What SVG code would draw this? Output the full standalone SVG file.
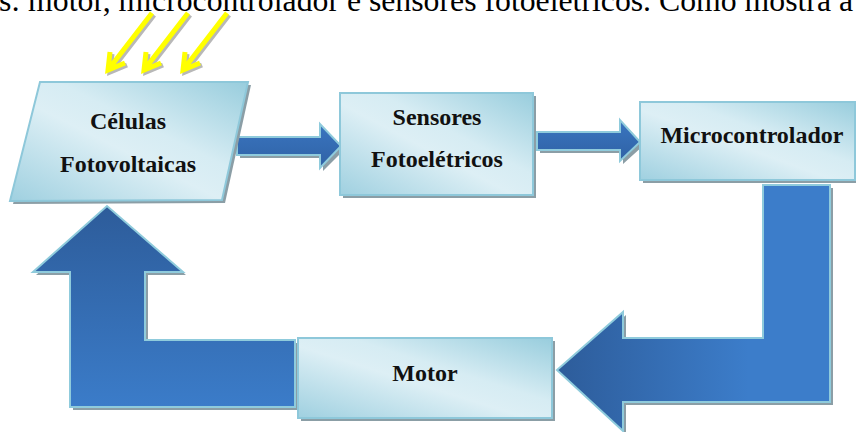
<svg xmlns="http://www.w3.org/2000/svg" width="856" height="432" viewBox="0 0 856 432">
<defs>
<linearGradient id="box" x1="0" y1="1" x2="1" y2="0">
<stop offset="0" stop-color="#9fd0e0"/>
<stop offset="0.45" stop-color="#ddeff5"/>
<stop offset="0.6" stop-color="#d6ecf3"/>
<stop offset="1" stop-color="#98cddd"/>
</linearGradient>
<linearGradient id="arrV" x1="0" y1="0" x2="0" y2="1">
<stop offset="0" stop-color="#2d5c9a"/>
<stop offset="1" stop-color="#3b7cc9"/>
</linearGradient>
<linearGradient id="arrH" x1="0" y1="0" x2="1" y2="0">
<stop offset="0" stop-color="#2d5c9a"/>
<stop offset="0.7" stop-color="#3c7dca"/>
<stop offset="1" stop-color="#3c7dca"/>
</linearGradient>
<linearGradient id="arrS" x1="0" y1="0" x2="0" y2="1">
<stop offset="0" stop-color="#3a75c0"/>
<stop offset="1" stop-color="#2f62a5"/>
</linearGradient>
</defs>
<style>
.shadow{fill:#8b9ea6}
.box{fill:url(#box);stroke:#8ec8da;stroke-width:2}
.lbl{font-family:"Liberation Serif","Times New Roman",serif;font-weight:bold;font-size:24px;fill:#111;text-anchor:middle}
.arr{stroke:#8fcbdc;stroke-width:2;stroke-linejoin:miter}
.ray{fill:none;stroke:#ffff00;stroke-width:5;stroke-linecap:butt}
.rays{fill:none;stroke:#b8b8b8;stroke-width:5}
.body{font-family:"Liberation Serif","Times New Roman",serif;font-size:32px;fill:#000}
</style>

<text class="body" x="-1" y="11" textLength="854" lengthAdjust="spacingAndGlyphs">s: motor, microcontrolador e sensores fotoelétricos. Como mostra a</text>

<g id="raios">
<g transform="translate(2,2)">
<path class="rays" d="M152,13 L108,70 M110,52 L108,70 L125,63"/>
<path class="rays" d="M188,13 L144,70 M146,52 L144,70 L161,63"/>
<path class="rays" d="M227,13 L183,70 M185,52 L183,70 L200,63"/>
</g>
<path class="ray" d="M152,13 L108,70 M110,52 L108,70 L125,63"/>
<path class="ray" d="M188,13 L144,70 M146,52 L144,70 L161,63"/>
<path class="ray" d="M227,13 L183,70 M185,52 L183,70 L200,63"/>
</g>

<g id="connectors">
<g id="c1">
<polygon class="shadow" points="240,140 323,140 323,127 345,149 323,171 323,158 240,158"/>
<polygon class="arr" fill="url(#arrS)" points="237,137 320,137 320,124 341,146 320,168 320,155 237,155"/>
</g>
<g id="c2">
<polygon class="shadow" points="540,135 623,135 623,123 644,145 623,164 623,153 540,153"/>
<polygon class="arr" fill="url(#arrS)" points="537,132 620,132 620,120 640,142 620,161 620,150 537,150"/>
</g>
<g id="c3">
<polygon class="shadow" points="766,188 833,188 833,405 626,405 626,434 560,373 626,315 626,341 766,341"/>
<polygon class="arr" fill="url(#arrH)" points="763,185 830,185 830,402 623,402 623,431 557,370 623,312 623,338 763,338"/>
</g>
<g id="c4">
<polygon class="shadow" points="73,410 298,410 298,343 148,343 148,275 186,275 110,209 36,275 73,275"/>
<polygon class="arr" fill="url(#arrV)" points="70,407 295,407 295,340 145,340 145,272 183,272 107,206 33,272 70,272"/>
</g>
</g>

<g id="celulas">
<polygon class="shadow" points="43,85 251,85 225,203 13,204"/>
<polygon class="box" points="40,82 248,82 222,200 10,201"/>
<text class="lbl" x="128" y="129">Células</text>
<text class="lbl" x="128" y="172">Fotovoltaicas</text>
</g>

<g id="sensores">
<rect class="shadow" x="343" y="96" width="193" height="102"/>
<rect class="box" x="340" y="93" width="193" height="102"/>
<text class="lbl" x="437" y="125">Sensores</text>
<text class="lbl" x="437" y="167">Fotoelétricos</text>
</g>

<g id="microcontrolador">
<rect class="shadow" x="643" y="105" width="215" height="78"/>
<rect class="box" x="640" y="102" width="215" height="78"/>
<text class="lbl" x="752" y="143">Microcontrolador</text>
</g>

<g id="motor">
<rect class="shadow" x="301" y="341" width="254" height="80"/>
<rect class="box" x="298" y="338" width="254" height="80"/>
<text class="lbl" x="425" y="381">Motor</text>
</g>
</svg>
